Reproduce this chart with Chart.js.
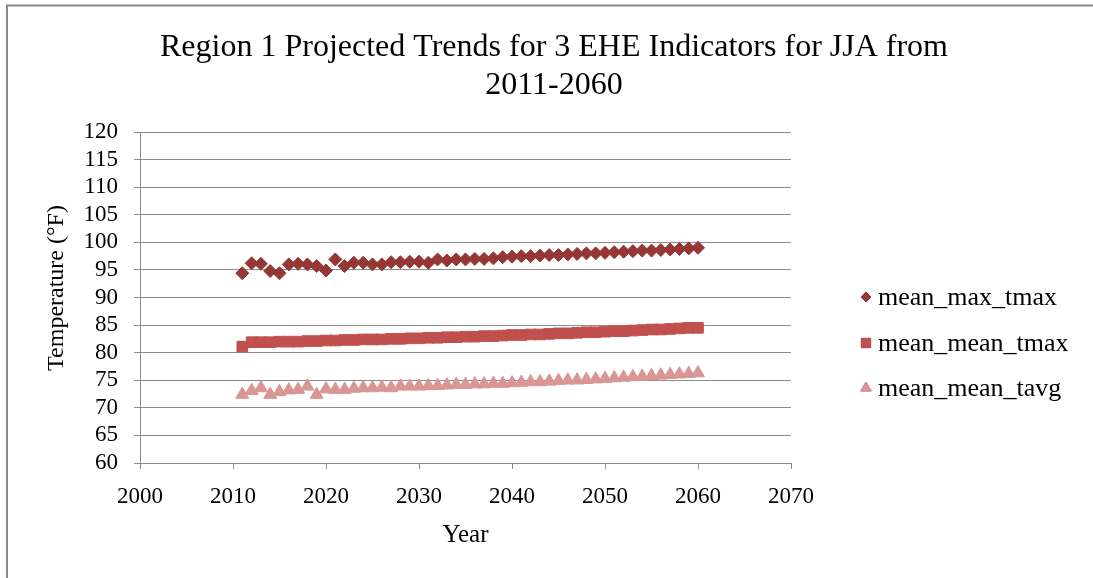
<!DOCTYPE html>
<html>
<head>
<meta charset="utf-8">
<title>Region 1 Projected Trends</title>
<script src="https://cdn.jsdelivr.net/npm/chart.js@4.4.1/dist/chart.umd.min.js"></script>
<style>
  html, body { margin: 0; padding: 0; background: #fff; }
  #wrap { position: relative; width: 1093px; height: 578px; }
</style>
</head>
<body>
<div id="wrap"><canvas id="eheChart"></canvas></div>
<script>
// ------------------ Data ------------------
const years = [
  2011, 2012, 2013, 2014, 2015, 2016, 2017, 2018, 2019, 2020,
  2021, 2022, 2023, 2024, 2025, 2026, 2027, 2028, 2029, 2030,
  2031, 2032, 2033, 2034, 2035, 2036, 2037, 2038, 2039, 2040,
  2041, 2042, 2043, 2044, 2045, 2046, 2047, 2048, 2049, 2050,
  2051, 2052, 2053, 2054, 2055, 2056, 2057, 2058, 2059, 2060
];

const meanMaxTmax = [
  94.4, 96.2, 96.1, 94.8, 94.4, 96.0, 96.1, 96.0, 95.7, 94.9,
  96.9, 95.7, 96.3, 96.3, 96.0, 96.0, 96.4, 96.4, 96.5, 96.5,
  96.3, 96.9, 96.7, 96.9, 96.9, 97.0, 97.0, 97.1, 97.3, 97.4,
  97.5, 97.5, 97.6, 97.7, 97.7, 97.8, 97.9, 98.0, 98.0, 98.1,
  98.2, 98.3, 98.4, 98.5, 98.5, 98.6, 98.7, 98.8, 98.9, 99.0
];

const meanMeanTmax = [
  81.1, 81.9, 81.9, 81.9, 82.0, 82.0, 82.0, 82.1, 82.1, 82.2,
  82.2, 82.3, 82.3, 82.4, 82.4, 82.4, 82.5, 82.5, 82.6, 82.6,
  82.7, 82.7, 82.8, 82.8, 82.9, 82.9, 83.0, 83.0, 83.1, 83.2,
  83.2, 83.3, 83.3, 83.4, 83.5, 83.5, 83.6, 83.7, 83.7, 83.8,
  83.9, 83.9, 84.0, 84.1, 84.2, 84.2, 84.3, 84.4, 84.5, 84.5
];

const meanMeanTavg = [
  72.4, 73.1, 73.6, 72.4, 72.9, 73.2, 73.3, 73.9, 72.4, 73.4,
  73.3, 73.3, 73.5, 73.6, 73.6, 73.7, 73.6, 73.9, 73.9, 73.9,
  74.0, 74.0, 74.1, 74.2, 74.2, 74.3, 74.3, 74.4, 74.4, 74.5,
  74.6, 74.7, 74.7, 74.8, 74.9, 75.0, 75.0, 75.1, 75.2, 75.3,
  75.4, 75.5, 75.6, 75.7, 75.8, 75.9, 76.0, 76.1, 76.2, 76.3
];

const seriesNames = ["mean_max_tmax", "mean_mean_tmax", "mean_mean_tavg"];
const titleLines = ["Region 1 Projected Trends for 3 EHE Indicators for JJA from", "2011-2060"];
const yAxisTitle = "Temperature (°F)";
const xAxisTitle = "Year";

const SERIF = "'Times New Roman', 'Liberation Serif', serif";
const GRID = "#8c8c8c";

function toPoints(values) {
  return years.map((y, i) => ({ x: y, y: values[i] }));
}

// ------------------ Plugins ------------------
// outer frame, two-line title and the rotated y axis title
const framePlugin = {
  id: "frameAndTitle",
  beforeDraw(chart) {
    const ctx = chart.ctx;
    ctx.save();
    ctx.fillStyle = "#fff";
    ctx.fillRect(0, 0, chart.width, chart.height);
    ctx.strokeStyle = "#8a8a8a";
    ctx.lineWidth = 2;
    ctx.beginPath();
    ctx.moveTo(7, chart.height);
    ctx.lineTo(7, 5.5);
    ctx.lineTo(chart.width, 5.5);
    ctx.stroke();
    ctx.restore();
  },
  afterDraw(chart) {
    const ctx = chart.ctx;
    ctx.save();
    ctx.fillStyle = "#000";
    ctx.font = `32px ${SERIF}`;
    ctx.textAlign = "center";
    ctx.textBaseline = "alphabetic";
    ctx.fillText(titleLines[0], 554, 56);
    ctx.fillText(titleLines[1], 554, 94);

    ctx.translate(57, 288);
    ctx.rotate(-Math.PI / 2);
    ctx.font = `24px ${SERIF}`;
    ctx.textBaseline = "middle";
    ctx.fillText(yAxisTitle, 0, 0);
    ctx.restore();
  }
};

// legend on the right, marker + label per series
const legendPlugin = {
  id: "sideLegend",
  afterDraw(chart) {
    const ctx = chart.ctx;
    const rows = [297, 343, 388];
    ctx.save();
    chart.data.datasets.forEach((ds, i) => {
      const y = rows[i];
      Chart.helpers.drawPoint(ctx, {
        pointStyle: ds.pointStyle,
        radius: ds.legendRadius,
        borderWidth: 1
      }, 866, y);
      ctx.fillStyle = ds.backgroundColor;
      ctx.strokeStyle = ds.borderColor;
      ctx.fill();
      ctx.stroke();
      ctx.fillStyle = "#000";
      ctx.font = `26px ${SERIF}`;
      ctx.textAlign = "left";
      ctx.textBaseline = "middle";
      ctx.fillText(ds.label, 878, y + 1);
    });
    ctx.restore();
  }
};

// ------------------ Chart ------------------
new Chart(document.getElementById("eheChart"), {
  type: "scatter",
  data: {
    datasets: [
      {
        label: seriesNames[0],
        data: toPoints(meanMaxTmax),
        pointStyle: "rectRot",
        pointRadius: 6.5,
        legendRadius: 5,
        backgroundColor: "#953735",
        borderColor: "#953735",
        borderWidth: 1
      },
      {
        label: seriesNames[1],
        data: toPoints(meanMeanTmax),
        pointStyle: "rect",
        pointRadius: 7.5,
        legendRadius: 6.5,
        backgroundColor: "#c0504d",
        borderColor: "#c0504d",
        borderWidth: 1
      },
      {
        label: seriesNames[2],
        data: toPoints(meanMeanTavg),
        pointStyle: "triangle",
        pointRadius: 7.5,
        legendRadius: 6,
        backgroundColor: "#d99694",
        borderColor: "#d99694",
        borderWidth: 1
      }
    ]
  },
  options: {
    responsive: true,
    maintainAspectRatio: false,
    animation: false,
    layout: {
      padding: { left: 28, right: 302, top: 132, bottom: 25 }
    },
    plugins: {
      legend: { display: false },
      title: { display: false },
      tooltip: { enabled: false }
    },
    scales: {
      x: {
        type: "linear",
        min: 2000,
        max: 2070,
        afterFit: s => { s.height = 90; },
        ticks: {
          stepSize: 10,
          autoSkip: false,
          color: "#000",
          padding: 14,
          font: { family: SERIF, size: 23 },
          callback: v => String(v)
        },
        grid: {
          drawOnChartArea: false,
          drawTicks: true,
          tickLength: 6,
          color: GRID
        },
        border: { color: GRID, width: 1 },
        title: {
          display: true,
          text: xAxisTitle,
          color: "#000",
          font: { family: SERIF, size: 25 },
          padding: { top: 0, bottom: 3 }
        }
      },
      y: {
        min: 60,
        max: 120,
        afterFit: s => { s.width = 112; },
        ticks: {
          stepSize: 5,
          autoSkip: false,
          color: "#000",
          padding: 16,
          font: { family: SERIF, size: 23 }
        },
        grid: {
          color: GRID,
          tickLength: 6,
          drawTicks: true
        },
        border: { color: GRID, width: 1 },
        title: { display: false }
      }
    }
  },
  plugins: [framePlugin, legendPlugin]
});
</script>
</body>
</html>
